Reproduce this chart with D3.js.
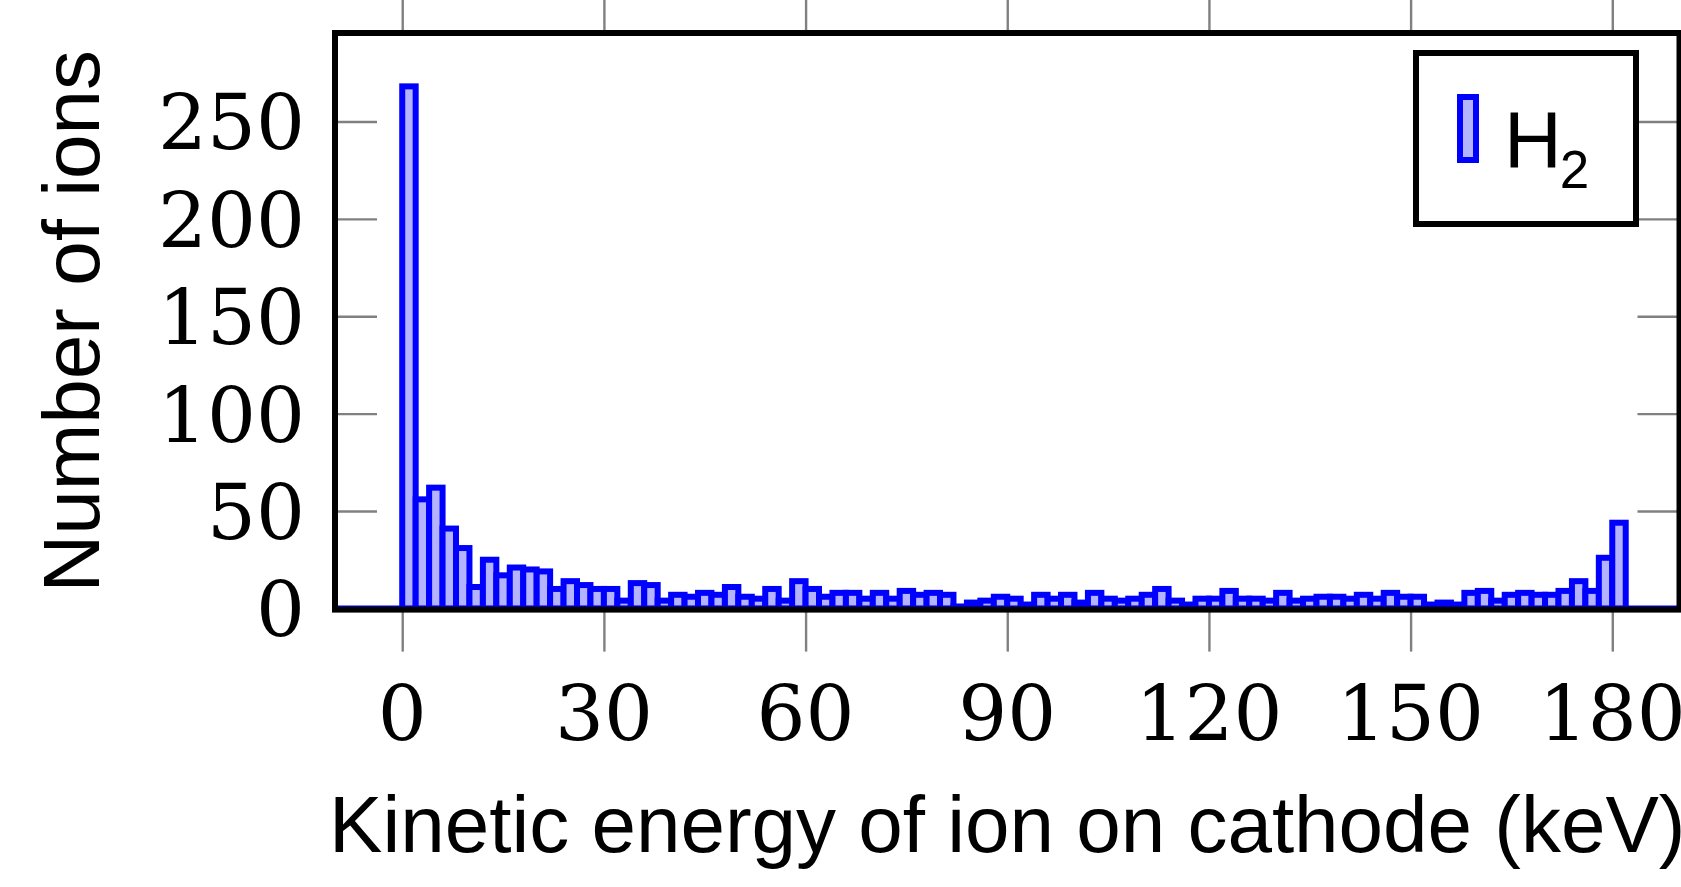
<!DOCTYPE html>
<html><head><meta charset="utf-8">
<script src="https://cdn.jsdelivr.net/npm/d3@7"></script>
<style>html,body{margin:0;padding:0;background:#fff;overflow:hidden}</style>
</head><body>
<svg id="chart" width="1681" height="887"></svg>
<script>
// ---- data ----
const binStarts = [
  0, 2, 4, 6, 8, 10, 12, 14, 16, 18,
  20, 22, 24, 26, 28, 30, 32, 34, 36, 38,
  40, 42, 44, 46, 48, 50, 52, 54, 56, 58,
  60, 62, 64, 66, 68, 70, 72, 74, 76, 78,
  80, 82, 84, 86, 88, 90, 92, 94, 96, 98,
  100, 102, 104, 106, 108, 110, 112, 114, 116, 118,
  120, 122, 124, 126, 128, 130, 132, 134, 136, 138,
  140, 142, 144, 146, 148, 150, 152, 154, 156, 158,
  160, 162, 164, 166, 168, 170, 172, 174, 176, 178,
  180];
const ionCounts = [
  268, 56, 62, 41, 31, 11, 25, 17, 21, 20,
  19, 10, 14, 12, 10, 10, 4, 13, 12, 4,
  7, 6, 8, 7, 11, 6, 5, 10, 4, 14,
  10, 6, 8, 8, 5, 8, 5, 9, 7, 8,
  7, 1, 3, 4, 6, 5, 2, 7, 5, 7,
  3, 8, 5, 4, 5, 7, 10, 4, 2, 5,
  5, 9, 5, 5, 4, 8, 4, 5, 6, 6,
  5, 7, 5, 8, 6, 6, 2, 3, 2, 8,
  9, 4, 7, 8, 7, 7, 9, 14, 9, 26,
  44];
const binWidth = 2;
const xTicks = [0, 30, 60, 90, 120, 150, 180];
const yTicks = [0, 50, 100, 150, 200, 250];
const xDomain = [-10, 190];
const yDomain = [-0.6, 295.4];
const xLabel = "Kinetic energy of ion on cathode (keV)";
const yLabel = "Number of ions";
const legendMain = "H";
const legendSub = "2";

// ---- layout ----
const L = 335, R = 1679.5, T = 33, B = 609.6;
const barBlue = "#0000ff", barFill = "#b3b3ff";
const barStroke = 6, tickLen = 42;
const serif = "'DejaVu Serif', serif";
const sans = "'Liberation Sans', Arial, sans-serif";

const svg = d3.select("#chart");
const x = d3.scaleLinear().domain(xDomain).range([L, R]);
const y = d3.scaleLinear().domain(yDomain).range([B, T]);

// tick marks (gray)
function styleTicks(g) {
  g.select(".domain").remove();
  g.selectAll(".tick line").attr("stroke", "#808080").attr("stroke-width", 2.4);
  g.selectAll(".tick text").remove();
}
svg.append("g").attr("transform", `translate(0,${B})`)
  .call(d3.axisBottom(x).tickValues(xTicks).tickSize(tickLen).tickFormat(""))
  .call(styleTicks);
svg.append("g").attr("transform", `translate(0,${T})`)
  .call(d3.axisTop(x).tickValues(xTicks).tickSize(tickLen).tickFormat(""))
  .call(styleTicks);
svg.append("g").attr("transform", `translate(${L},0)`)
  .call(d3.axisRight(y).tickValues(yTicks).tickSize(tickLen).tickFormat(""))
  .call(styleTicks);
svg.append("g").attr("transform", `translate(${R},0)`)
  .call(d3.axisLeft(y).tickValues(yTicks).tickSize(tickLen).tickFormat(""))
  .call(styleTicks);

// zero baseline of the histogram
svg.append("line")
  .attr("x1", x(xDomain[0])).attr("x2", x(xDomain[1]))
  .attr("y1", y(0)).attr("y2", y(0))
  .attr("stroke", barBlue).attr("stroke-width", barStroke);

// bars
const data = binStarts.map((s, i) => ({ s, v: ionCounts[i] }));
svg.append("g").selectAll("rect").data(data).join("rect")
  .attr("x", d => x(d.s))
  .attr("width", d => x(d.s + binWidth) - x(d.s))
  .attr("y", d => y(d.v))
  .attr("height", d => y(0) - y(d.v))
  .attr("fill", barFill)
  .attr("stroke", barBlue)
  .attr("stroke-width", barStroke);

// frame
svg.append("rect")
  .attr("x", L).attr("y", T).attr("width", R - L).attr("height", B - T)
  .attr("fill", "none").attr("stroke", "#000").attr("stroke-width", 6);

// tick labels
svg.append("g").selectAll("text").data(yTicks).join("text")
  .attr("x", 305).attr("y", d => y(d) + 28)
  .attr("text-anchor", "end")
  .attr("font-family", serif).attr("font-size", 77)
  .text(d => d);
svg.append("g").selectAll("text").data(xTicks).join("text")
  .attr("x", d => x(d)).attr("y", 740)
  .attr("text-anchor", "middle")
  .attr("font-family", serif).attr("font-size", 77)
  .text(d => d);

// axis labels
svg.append("text")
  .attr("x", (L + R) / 2).attr("y", 852)
  .attr("text-anchor", "middle")
  .attr("font-family", sans).attr("font-size", 80)
  .text(xLabel);
svg.append("text")
  .attr("transform", `translate(98.6,${(T + B) / 2}) rotate(-90)`)
  .attr("text-anchor", "middle")
  .attr("font-family", sans).attr("font-size", 80)
  .text(yLabel);

// legend
const lg = svg.append("g");
lg.append("rect")
  .attr("x", 1416).attr("y", 53).attr("width", 220).attr("height", 171)
  .attr("fill", "#fff").attr("stroke", "#000").attr("stroke-width", 6);
lg.append("rect")
  .attr("x", 1460).attr("y", 97).attr("width", 16).attr("height", 63)
  .attr("fill", barFill).attr("stroke", barBlue).attr("stroke-width", barStroke);
const lt = lg.append("text")
  .attr("x", 1504).attr("y", 167)
  .attr("font-family", sans).attr("font-size", 80);
lt.append("tspan").text(legendMain);
lt.append("tspan").attr("dy", 21).attr("dx", -2).attr("font-size", 53).text(legendSub);
</script>
</body></html>
